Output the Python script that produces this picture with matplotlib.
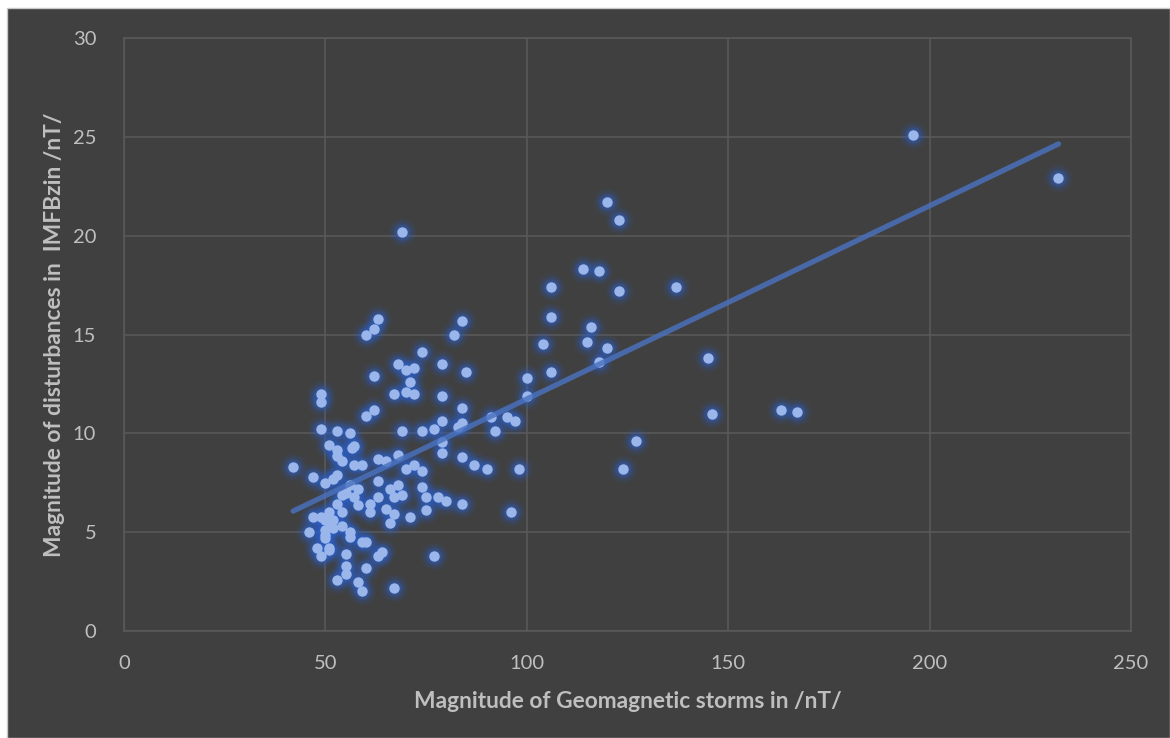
import numpy as np
import matplotlib.pyplot as plt
from matplotlib.patches import Rectangle

# storm magnitude (nT) and IMF Bz disturbance (nT) for each event
storm_nt = [42, 47, 47, 46, 48, 49, 49, 49, 49, 49,
            50, 50, 50, 50, 50, 51, 51, 51, 51, 51,
            52, 52, 52, 53, 53, 53, 53, 53, 53, 54,
            54, 54, 54, 55, 55, 55, 55, 56, 56, 56,
            56, 56.5, 57, 57, 57, 58, 58, 58, 59, 59,
            59, 60, 60, 60, 60, 61, 61, 62, 62, 62,
            63, 63, 63, 63, 63, 64, 65, 65, 66, 66,
            67, 67, 67, 67, 68, 68, 68, 69, 70, 69,
            69, 70, 70, 71, 71, 72, 72, 72, 74, 74,
            74, 74, 75, 75, 77, 77, 78, 79, 79, 79,
            79, 79, 80, 82, 83, 84, 84, 84, 84, 84,
            85, 87, 90, 91, 92, 95, 96, 97, 98, 100,
            100, 104, 106, 106, 106, 114, 115, 116, 118, 118,
            120, 120, 123, 123, 124, 127, 137, 145, 146, 163,
            167, 196, 232]
imf_bz_nt = [8.3, 7.8, 5.75, 5.0, 4.2, 3.8, 12.0, 11.6, 10.2, 5.75,
             7.5, 5.6, 5.1, 4.85, 4.7, 9.4, 6.0, 5.5, 4.2, 4.1,
             7.7, 5.6, 5.2, 10.1, 9.15, 8.85, 7.9, 6.4, 2.6, 8.6,
             6.9, 6.0, 5.3, 7.0, 3.9, 3.3, 2.9, 10.0, 7.4, 5.0,
             4.75, 9.25, 9.35, 8.4, 6.8, 7.2, 6.35, 2.5, 8.4, 4.5,
             2.0, 15.0, 10.9, 4.5, 3.2, 6.4, 6.0, 15.3, 12.9, 11.2,
             15.8, 8.7, 7.6, 6.8, 3.8, 4.0, 8.6, 6.15, 7.2, 5.45,
             12.0, 6.8, 5.9, 2.2, 13.5, 8.9, 7.4, 20.2, 12.1, 10.1,
             6.9, 13.2, 8.2, 12.6, 5.75, 13.3, 12.0, 8.4, 14.1, 10.1,
             8.1, 7.3, 6.8, 6.1, 10.2, 3.8, 6.8, 13.5, 11.9, 10.6,
             9.55, 9.0, 6.6, 15.0, 10.3, 15.7, 11.3, 10.5, 8.8, 6.4,
             13.1, 8.4, 8.2, 10.85, 10.1, 10.85, 6.0, 10.6, 8.2, 12.8,
             11.9, 14.5, 17.4, 15.9, 13.1, 18.3, 14.6, 15.4, 18.2, 13.6,
             21.7, 14.3, 20.8, 17.2, 8.2, 9.6, 17.4, 13.8, 11.0, 11.2,
             11.1, 25.1, 22.9]

x_ticks = [0, 50, 100, 150, 200, 250]
y_ticks = [0, 5, 10, 15, 20, 25, 30]

x = np.array(storm_nt)
y = np.array(imf_bz_nt)

bg = '#404040'
grid_col = '#595959'
text_col = '#bfbfbf'
plt.rcParams['font.family'] = ['Lato', 'DejaVu Sans']

fig = plt.figure(figsize=(11.7, 7.38), dpi=100, facecolor='white')
# dark chart area with a thin white margin on the left and top
fig.patches.append(Rectangle((7 / 1170, 0), 1 - 7 / 1170, 1 - 8 / 738,
                             transform=fig.transFigure, facecolor=bg,
                             edgecolor='#c8c8c8', linewidth=1, zorder=-10))

ax = fig.add_axes([124 / 1170, 1 - 631 / 738, (1131 - 124) / 1170, (631 - 38) / 738])
ax.set_facecolor(bg)

# soft blue glow under each point
for s, a in [(400, 0.07), (270, 0.12), (170, 0.2), (105, 0.3)]:
    ax.scatter(x, y, s=s, color='#2c62d0', alpha=a, linewidths=0, zorder=2)
ax.scatter(x, y, s=56, color='#9bb6ea', linewidths=0, zorder=3)

# linear trendline
k, b = np.polyfit(x, y, 1)
xt = np.array([x.min(), x.max()])
ax.plot(xt, k * xt + b, color='#4a72c0', lw=3.8, alpha=0.82,
        solid_capstyle='round', zorder=4)

ax.set_xlim(0, 250)
ax.set_ylim(0, 30)
ax.set_xticks(x_ticks)
ax.set_yticks(y_ticks)
ax.grid(True, color=grid_col, lw=1.2, zorder=1)
ax.set_axisbelow(True)
for sp in ax.spines.values():
    sp.set_color(grid_col)
    sp.set_linewidth(1.2)
ax.tick_params(length=0, colors=text_col, labelsize=14.5)
ax.tick_params(axis='x', pad=17)
ax.tick_params(axis='y', pad=20)

fig.text(628 / 1170, 1 - 701 / 738, 'Magnitude of Geomagnetic storms in /nT/',
         ha='center', va='center', color=text_col, fontsize=16.4, fontweight='bold')
fig.text(55 / 1170, 1 - 335 / 738, 'Magnitude of disturbances in  IMFBzin /nT/',
         ha='center', va='center', rotation=90, color=text_col,
         fontsize=16.4, fontweight='bold')

fig.savefig('out.png', dpi=100, facecolor=fig.get_facecolor())
